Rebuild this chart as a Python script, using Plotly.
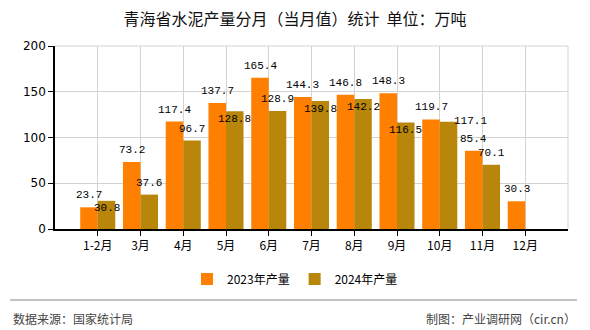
import plotly.graph_objects as go

categories = ["1-2月", "3月", "4月", "5月", "6月", "7月", "8月", "9月", "10月", "11月", "12月"]
values_2023 = [23.7, 73.2, 117.4, 137.7, 165.4, 144.3, 146.8, 148.3, 119.7, 85.4, 30.3]
values_2024 = [30.8, 37.6, 96.7, 128.8, 128.9, 139.8, 142.2, 116.5, 117.1, 70.1, None]
series_names = ["2023年产量", "2024年产量"]
y_ticks = [0, 50, 100, 150, 200]

colors = ["#FF8000", "#B8860B"]

# label placement tweaks (collision avoidance in original): index -> (dx, dy) in px
label_adjust_2024 = {0: (0, -19), 3: (0, -20), 5: (0, -20), 6: (0, -20), 7: (0, -20), 8: (22, -11)}

L, R, T, B = 55, 22, 46, 101
W, H = 590, 330
pw, ph = W - L - R, H - T - B


def px_x(x):
    return (x - L) / pw


def px_y(y):
    return (H - B - y) / ph


fig = go.Figure()
for name, vals, col in zip(series_names, [values_2023, values_2024], colors):
    fig.add_trace(go.Bar(x=categories, y=vals, name=name, marker=dict(color=col, line=dict(width=0))))

half = 8.75
lab_font = dict(family="Liberation Mono", size=11, color="#000")
annotations = []
for i, v in enumerate(values_2023):
    annotations.append(dict(x=categories[i], y=v, text=f"{v}", showarrow=False, xref="x", yref="y",
                            xshift=-half, yshift=12, font=lab_font))
for i, v in enumerate(values_2024):
    if v is None:
        continue
    dx, dy = label_adjust_2024.get(i, (0, 0))
    annotations.append(dict(x=categories[i], y=v, text=f"{v}", showarrow=False, xref="x", yref="y",
                            xshift=half + dx, yshift=12 + dy, font=lab_font))

foot_font = dict(size=12, color="#444", family="Noto Sans CJK SC")
annotations.append(dict(text="数据来源：国家统计局", x=px_x(11), y=px_y(318), xref="paper", yref="paper",
                        showarrow=False, xanchor="left", yanchor="middle", font=foot_font))
annotations.append(dict(text="制图：产业调研网（cir.cn）", x=px_x(578), y=px_y(318), xref="paper", yref="paper",
                        showarrow=False, xanchor="right", yanchor="middle", font=foot_font))

fig.update_layout(
    width=W, height=H,
    margin=dict(l=L, r=R, t=T, b=B),
    paper_bgcolor="white", plot_bgcolor="white",
    barmode="group", bargap=0.18, bargroupgap=0,
    title=dict(text="青海省水泥产量分月（当月值）统计  单位：万吨", x=0.5, xanchor="center", y=1 - 19 / H,
               yanchor="middle", font=dict(family="Noto Sans CJK SC", size=16, color="#111")),
    font=dict(family="Noto Sans CJK SC", size=12, color="#000"),
    xaxis=dict(type="category", range=[-1, 11], showgrid=True, gridcolor="#d3d3d3", gridwidth=1,
               showline=True, linecolor="#000", linewidth=1.5, ticks="outside", ticklen=5, tickcolor="#000",
               zeroline=False, tickfont=dict(size=12, family="Noto Sans CJK SC", color="#000")),
    yaxis=dict(range=[0, 200], tickvals=y_ticks, showgrid=True, gridcolor="#d3d3d3", gridwidth=1,
               showline=True, linecolor="#000", linewidth=1.5, ticks="outside", ticklen=5, tickcolor="#000",
               zeroline=False, tickfont=dict(size=12, family="DejaVu Sans", color="#000")),
    legend=dict(orientation="h", x=px_x(295), xanchor="center", y=px_y(279), yanchor="middle",
                font=dict(size=12, family="Noto Sans CJK SC", color="#000"), itemwidth=30),
    showlegend=True,
    annotations=annotations,
)

# Frame: top and right border lines, footer separator
fig.add_shape(type="line", xref="paper", yref="paper", x0=0, x1=1, y0=1, y1=1, line=dict(color="#d3d3d3", width=1))
fig.add_shape(type="line", xref="paper", yref="paper", x0=1, x1=1, y0=0, y1=1, line=dict(color="#d3d3d3", width=1))
fig.add_shape(type="line", xref="paper", yref="paper", x0=px_x(10), x1=px_x(577), y0=px_y(300), y1=px_y(300),
              line=dict(color="#888", width=1))

fig.write_html("out.html")
